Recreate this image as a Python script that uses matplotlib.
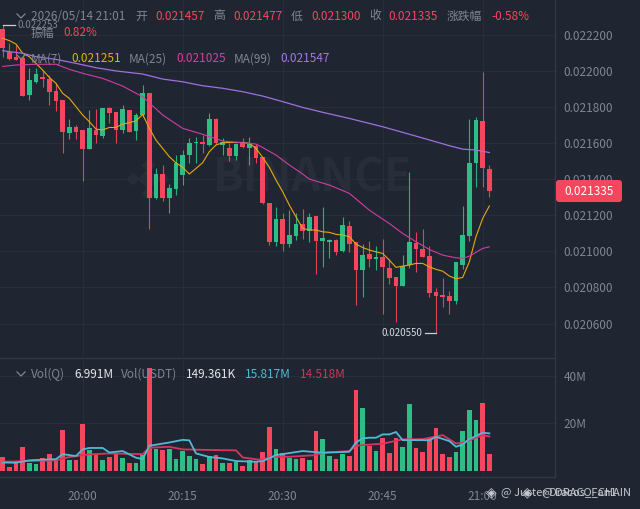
#!/usr/bin/env python3

import numpy as np
import matplotlib
matplotlib.use("Agg")
import matplotlib.pyplot as plt
from matplotlib.patches import FancyBboxPatch
from matplotlib.transforms import IdentityTransform

plt.rcParams['font.family'] = ['Noto Sans CJK SC', 'DejaVu Sans']

# prices are in 1e-6 units, one row per minute from 19:48
opens = [22229, 22106, 22078, 22069, 21866, 21939, 21967, 21954, 21888, 21838,
         21653, 21686, 21672, 21566, 21672, 21638, 21792, 21771, 21672, 21782,
         21666, 21755, 21879, 21293, 21428, 21293, 21345, 21422, 21533, 21598,
         21603, 21587, 21731, 21589, 21572, 21529, 21598, 21570, 21585, 21520,
         21265, 21053, 21177, 21040, 21086, 21151, 21114, 21195, 21058, 21053,
         21062, 20999, 21142, 21049, 20896, 20985, 20955, 20966, 20905, 20855,
         20809, 20924, 21044, 21010, 20975, 20774, 20757, 20752, 20724, 20924,
         21086, 21487, 21721, 21457]
highs = [22253, 22152, 22143, 22087, 22013, 22013, 22004, 21976, 21930, 21838,
         21731, 21699, 21672, 21782, 21786, 21795, 21801, 21771, 21810, 21782,
         21764, 21921, 21879, 21459, 21478, 21372, 21533, 21561, 21626, 21631,
         21644, 21764, 21736, 21626, 21598, 21598, 21626, 21631, 21594, 21520,
         21265, 21243, 21210, 21228, 21210, 21232, 21210, 21195, 21247, 21066,
         21066, 21191, 21167, 21053, 21038, 21057, 21029, 21066, 20955, 20855,
         20979, 21441, 21108, 21121, 21029, 20794, 20853, 20780, 20942, 21251,
         21731, 21742, 21994, 21477]
lows = [22078, 22060, 22060, 21862, 21838, 21930, 21912, 21810, 21779, 21542,
        21622, 21620, 21391, 21566, 21598, 21626, 21709, 21598, 21653, 21659,
        21616, 21742, 21121, 21287, 21280, 21210, 21311, 21367, 21487, 21487,
        21542, 21585, 21594, 21533, 21502, 21505, 21570, 21478, 21487, 21260,
        21034, 21031, 21001, 21025, 21062, 21068, 21049, 20874, 20914, 20964,
        20979, 20997, 20997, 20702, 20748, 20914, 20896, 20652, 20818, 20606,
        20807, 20905, 20883, 20966, 20748, 20550, 20693, 20652, 20708, 20901,
        21058, 21358, 21358, 21300]
closes = [22124, 22063, 22060, 21862, 21949, 21980, 21954, 21884, 21832, 21659,
          21688, 21662, 21566, 21681, 21644, 21795, 21764, 21672, 21788, 21661,
          21755, 21879, 21293, 21428, 21293, 21348, 21487, 21533, 21598, 21603,
          21592, 21731, 21598, 21603, 21529, 21594, 21579, 21594, 21515, 21265,
          21053, 21177, 21040, 21090, 21151, 21114, 21191, 21058, 21071, 21062,
          20994, 21145, 21040, 20896, 20979, 20955, 20966, 20914, 20850, 20809,
          20920, 21051, 21012, 20966, 20770, 20754, 20748, 20726, 20938, 21090,
          21490, 21727, 21459, 21335]

ma7 = [22180, 22167, 22148, 22097, 22078, 22041, 22004, 21963, 21930, 21875,
       21847, 21801, 21755, 21718, 21677, 21672, 21686, 21686, 21705, 21712,
       21723, 21758, 21681, 21616, 21570, 21524, 21490, 21465, 21428, 21459,
       21491, 21552, 21589, 21601, 21603, 21603, 21603, 21598, 21570, 21520,
       21465, 21395, 21330, 21256, 21191, 21127, 21118, 21118, 21108, 21105,
       21094, 21090, 21081, 21040, 21021, 21007, 20997, 20988, 20951, 20911,
       20918, 20924, 20933, 20933, 20914, 20900, 20890, 20863, 20848, 20855,
       20942, 21081, 21182, 21251]

ma25_idx = [0, 2, 5, 8, 10, 12, 15, 18, 21, 24, 27, 30, 33, 36, 38, 39, 41, 43, 45, 46,
            49, 52, 55, 58, 60, 62, 64, 66, 68, 69, 70, 72, 73]
ma25 = [22024, 22032, 22036, 22036, 22008, 21986, 21958, 21915, 21856, 21755, 21681,
        21648, 21611, 21601, 21594, 21575, 21533, 21478, 21428, 21400, 21367, 21321,
        21228, 21154, 21099, 21053, 21010, 20979, 20964, 20961, 20973, 21016, 21025]

ma99_idx = [0, 1, 3, 5, 8, 11, 14, 17, 21, 24, 27, 30, 33, 36, 39, 42, 45, 48, 52, 57,
            62, 67, 69, 71, 73]
ma99 = [22111, 22106, 22097, 22078, 22063, 22041, 22017, 21999, 21982, 21954, 21939,
        21917, 21903, 21884, 21860, 21829, 21797, 21770, 21736, 21690, 21638, 21585,
        21566, 21561, 21547]

# volume in millions
volumes = [5.7, 1.8, 3.2, 10.1, 3.5, 2.9, 5.3, 7.0, 4.2, 17.2,
           4.6, 4.6, 19.6, 8.8, 7.0, 4.5, 6.0, 7.4, 5.3, 3.2,
           3.2, 6.7, 43.5, 9.1, 8.8, 9.2, 4.9, 8.5, 6.3, 5.0,
           2.8, 6.3, 6.7, 3.5, 3.5, 3.9, 2.1, 4.6, 3.9, 8.1,
           18.3, 9.2, 7.4, 5.6, 5.2, 5.6, 4.6, 16.8, 13.4, 6.4,
           4.9, 7.1, 6.3, 34.1, 26.3, 10.6, 8.5, 13.7, 7.7, 13.7,
           10.1, 28.0, 9.7, 8.1, 13.7, 18.0, 7.3, 5.9, 8.1, 16.9,
           25.7, 21.4, 28.5, 6.991]

vol_ma1_idx = [0, 2, 4, 7, 8, 9, 11, 12, 13, 15, 16, 18, 20, 21, 22, 25, 27, 28, 29, 31,
               33, 35, 38, 39, 41, 45, 48, 52, 53, 54, 55, 56, 57, 58, 59, 60, 63, 64, 65,
               67, 68, 69, 70, 72, 73]
vol_ma1 = [3.6, 3.5, 4.5, 4.9, 5.0, 7.1, 6.3, 9.1, 9.7, 9.7, 7.8, 8.4, 5.6, 5.0, 10.6,
           12.0, 13.1, 12.9, 7.4, 5.9, 5.3, 4.2, 3.9, 4.2, 6.7, 8.4, 7.7, 8.1, 12.0, 13.7,
           14.0, 14.0, 15.4, 15.4, 16.4, 13.0, 13.0, 12.9, 14.4, 12.6, 10.2, 11.2, 13.4,
           16.1, 15.817]

vol_ma2_idx = [0, 5, 8, 10, 13, 16, 21, 22, 25, 27, 32, 35, 36, 39, 40, 43, 47, 48, 52, 53,
               54, 57, 60, 63, 66, 68, 69, 71, 72, 73]
vol_ma2 = [3.9, 4.3, 4.5, 5.9, 7.0, 7.4, 7.1, 9.8, 10.2, 9.1, 8.8, 8.7, 5.7, 4.6, 6.0,
           6.0, 6.7, 7.7, 8.4, 10.6, 10.9, 11.5, 13.3, 13.4, 15.1, 11.6, 11.9, 14.0, 15.1,
           14.518]

price_ticks = [20600, 20800, 21000, 21200, 21400, 21600, 21800, 22000, 22200]
vol_ticks = [20, 40]
time_idx = [12, 27, 42, 57, 72]
time_labels = ['20:00', '20:15', '20:30', '20:45', '21:00']

BG = '#1f2631'
GRID = '#272e39'
EDGE = '#303844'
GREY = '#7f8794'
RED = '#f6465d'
GREEN = '#2ebd85'
W, H = 640, 509


def tx(x, y, s, color=GREY, size=8.5, ha='left', **kw):
    # pixel position measured from the top left of the picture
    return fig.text(x / W, 1 - y / H, s, color=color, fontsize=size, ha=ha, va='center', **kw)


fig = plt.figure(figsize=(6.4, 5.09), dpi=100, facecolor=BG)

ax = fig.add_axes([0, 1 - 358 / H, 555 / W, 358 / H], facecolor='none')
axv = fig.add_axes([0, 1 - 477 / H, 555 / W, 119 / H], facecolor='none')

x = np.arange(len(opens))
o, h, l, c = [np.array(a) * 1e-6 for a in (opens, highs, lows, closes)]
colors = [GREEN if a >= b else RED for a, b in zip(c, o)]

for a in (ax, axv):
    a.set_xlim(-0.4, 82.85)
    a.set_xticks(time_idx)
    a.grid(True, color=GRID, linewidth=0.8)
    a.set_axisbelow(True)
    a.yaxis.tick_right()
    for s in ('top', 'left'):
        a.spines[s].set_visible(False)
    for s in ('bottom', 'right'):
        a.spines[s].set_color(EDGE)
        a.spines[s].set_linewidth(1)

ax.set_ylim(20409e-6, 22392e-6)
ax.set_yticks(np.array(price_ticks) * 1e-6)
ax.set_yticklabels(['%.6f' % (t * 1e-6) for t in price_ticks])
ax.tick_params(axis='both', length=0, labelsize=8.5, labelcolor=GREY, pad=6)
ax.tick_params(axis='x', labelbottom=False)

ax.vlines(x, l, h, colors=colors, linewidth=0.8, alpha=0.9, zorder=2)
ax.bar(x, np.maximum(np.abs(c - o), 2e-6), bottom=np.minimum(o, c), width=0.7, color=colors, zorder=3)

ax.plot(x, np.array(ma7) * 1e-6, color='#e5a90f', linewidth=0.8, zorder=4)
ax.plot(ma25_idx, np.array(ma25) * 1e-6, color='#cf3da3', linewidth=0.8, zorder=4)
ax.plot(ma99_idx, np.array(ma99) * 1e-6, color='#a06fe0', linewidth=0.9, zorder=4)

# high and low markers
ax.plot([0, 1.9], [h[0], h[0]], color='#c9ced6', linewidth=0.9, zorder=5)
ax.text(2.3, h[0], '0.022253', color=GREY, fontsize=7, va='center', zorder=5)
ax.plot([63.4, 65], [l[65], l[65]], color='#c9ced6', linewidth=0.9, zorder=5)
ax.text(63.0, l[65], '0.020550', color='#d5d9df', fontsize=7, va='center', ha='right', zorder=5)

axv.set_ylim(-2.5, 47.5)
axv.set_yticks(vol_ticks)
axv.set_yticklabels(['%dM' % t for t in vol_ticks])
axv.set_xticklabels(time_labels)
axv.tick_params(axis='both', length=0, labelsize=8.5, labelcolor=GREY)
axv.tick_params(axis='y', pad=6)
axv.tick_params(axis='x', pad=9)
axv.bar(x, volumes, width=0.7, color=colors, zorder=2)
axv.plot(vol_ma2_idx, vol_ma2, color='#d9345f', linewidth=1.3, zorder=3)
axv.plot(vol_ma1_idx, vol_ma1, color='#4fbad6', linewidth=1.3, zorder=4)

# watermark behind the axes
tx(313, 179, 'BINANCE', color='#272e39', size=32.5, ha='center', fontweight='bold', zorder=-1)
logo = fig.add_axes([0, 0, 1, 1], facecolor='none', zorder=-1)
logo.set_xlim(0, W)
logo.set_ylim(H, 0)
logo.axis('off')
logo.scatter([133, 148, 163], [179, 179, 179], marker='D', s=[45, 110, 45], color='#272e39', linewidths=0)
logo.scatter([148, 148], [165, 193], marker='D', s=55, color='#272e39', linewidths=0)

# ohlc header
tx(31, 16, '2026/05/14 21:01')
tx(135, 16, '开')
tx(155, 16, '0.021457', RED)
tx(213, 16, '高')
tx(233, 16, '0.021477', RED)
tx(291, 16, '低')
tx(311, 16, '0.021300', RED)
tx(369, 16, '收')
tx(388, 16, '0.021335', RED)
tx(447, 16, '涨跌幅')
tx(491, 16, '-0.58%', RED)
tx(31, 33, '振幅')
tx(63, 33, '0.82%', RED)

# moving average row
tx(31, 59, 'MA(7)')
tx(71, 59, '0.021251', '#e5b00f')
tx(129, 59, 'MA(25)')
tx(176, 59, '0.021025', '#d63fa8')
tx(234, 59, 'MA(99)')
tx(280, 59, '0.021547', '#a678e8')

# volume row
tx(31, 374, 'Vol(Q)')
tx(74, 374, '6.991M', '#e3e6ea')
tx(121, 374, 'Vol(USDT)')
tx(186, 374, '149.361K', '#e3e6ea')
tx(245, 374, '15.817M', '#4fbad6')
tx(300, 374, '14.518M', '#c9375a')

# collapse chevrons
for cy in (16, 57, 374):
    logo_line = plt.Line2D([17 / W, 21 / W, 25 / W],
                           [1 - (cy - 2) / H, 1 - (cy + 2) / H, 1 - (cy - 2) / H],
                           color=GREY, linewidth=0.9, transform=fig.transFigure)
    fig.add_artist(logo_line)

# current price tag
tag = FancyBboxPatch((556, H - 202), 66, 22, boxstyle='round,pad=0,rounding_size=3',
                     facecolor=RED, edgecolor='none', transform=IdentityTransform(), zorder=6)
fig.add_artist(tag)
tx(589, 191.5, '0.021335', 'white', ha='center', zorder=7)

# two overlapping author stamps
tx(501, 492, '@ Juster Dracos_Fan1', '#c4c8ce', size=8, zorder=7)
tx(542, 492, '@ DRACO_CHAIN', '#c4c8ce', size=8, zorder=7)
tx(491, 492, '◈', '#c4c8ce', size=10, ha='center', zorder=7)
tx(527, 492, '◈', '#c4c8ce', size=10, ha='center', zorder=7)

fig.savefig('out.png', dpi=100, facecolor=BG)
